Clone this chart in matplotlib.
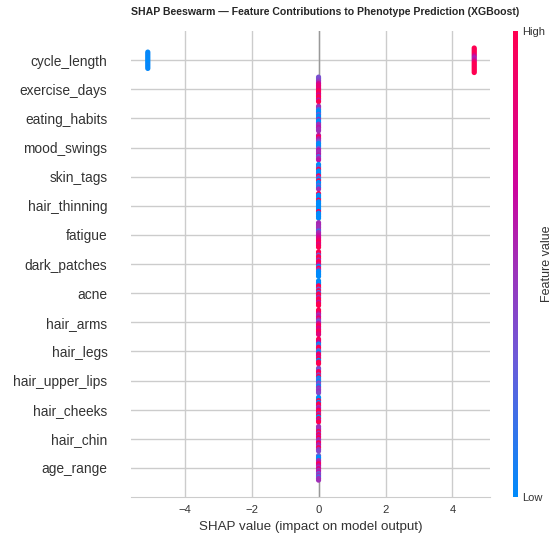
import numpy as np
import matplotlib
matplotlib.use('Agg')
import matplotlib.pyplot as plt
from matplotlib.colors import LinearSegmentedColormap
from matplotlib.cm import ScalarMappable

plt.rcParams['font.family'] = ['Liberation Sans', 'DejaVu Sans']

# features, top to bottom
features = ['cycle_length', 'exercise_days', 'eating_habits', 'mood_swings', 'skin_tags',
            'hair_thinning', 'fatigue', 'dark_patches', 'acne', 'hair_arms', 'hair_legs',
            'hair_upper_lips', 'hair_cheeks', 'hair_chin', 'age_range']

# shap values and normalised feature values per feature (points listed top to bottom of the swarm)
cycle_shap = [-5.1] * 11 + [4.65] * 16
cycle_feat = [0.02, 0.0, 0.05, 0.0, 0.0, 0.03, 0.0, 0.0, 0.05, 0.0, 0.02,
              1.0, 1.0, 0.95, 1.0, 0.9, 0.7, 0.55, 0.6, 0.8, 0.95, 1.0, 1.0, 0.95, 1.0, 1.0, 1.0]

exercise_days = [0.35, 0.35, 0.4, 0.5, 0.7, 0.8, 0.85, 0.8, 0.9, 1, 0.9, 0.7, 1, 1, 0.6, 1]
eating_habits = [0.5, 0.5, 0.2, 0, 0, 0.3, 0, 0, 0.5, 0, 0, 0.5, 0.5, 0.6, 0.5, 0.5]
mood_swings = [0.6, 1, 0.6, 0.5, 0.3, 0, 0, 0, 0.3, 0.6, 0.5, 0.5, 0.6, 0.2, 0.5, 0.6]
skin_tags = [0, 0, 0.2, 1, 0, 0, 0, 1, 0.4, 0, 1, 0, 0, 0.3, 0, 0.5]
hair_thinning = [1, 0, 0, 0, 1, 0, 0, 0, 0, 0, 0, 1, 0, 0, 0, 0]
fatigue = [0.5, 0.55, 0.5, 0.5, 0.5, 0.2, 0.5, 0.55, 0.6, 0.7, 0.8, 0.9, 1, 0.8, 0.9, 1]
dark_patches = [1, 1, 0.3, 1, 1, 0.5, 1, 1, 0.6, 0, 1, 0.5, 0, 0, 0, 0]
acne = [0, 0, 0, 1, 1, 0.3, 1, 0.2, 1, 1, 0.5, 1, 1, 0.6, 1, 1]
hair_arms = [1, 1, 0.8, 0.5, 0.6, 0.9, 0.5, 0.3, 0.6, 0.9, 1, 0.7, 0.8, 1, 0.9, 0.8]
hair_legs = [1, 0.9, 0.7, 0, 0.2, 1, 1, 0.3, 0, 0.8, 1, 0.6, 1, 0, 1, 1]
hair_upper_lips = [0.4, 0.3, 0.9, 1, 0.4, 1, 0, 0.2, 0, 0.4, 0.3, 0, 0.5, 0.4, 0.5, 0.4]
hair_cheeks = [0, 0, 1, 0, 1, 1, 0.5, 0.6, 1, 1, 0.5, 1, 0, 1, 0.6, 1]
hair_chin = [0.5, 0.5, 0.5, 1, 0.5, 1, 0.6, 1, 0.5, 0.5, 1, 0.6, 0.5, 1, 0.5, 0.4]
age_range = [0.3, 0, 0, 0.5, 0.6, 1, 0.7, 0.5, 0.8, 0.5, 0.6, 0.3, 0.5, 0.2, 0.5, 0.5]

other_feats = [exercise_days, eating_habits, mood_swings, skin_tags, hair_thinning, fatigue,
               dark_patches, acne, hair_arms, hair_legs, hair_upper_lips, hair_cheeks,
               hair_chin, age_range]
other_shap = 0.0

cmap = LinearSegmentedColormap.from_list('shap_red_blue', [
    (0.0, '#008bfb'), (0.3, '#6e5ad8'), (0.5, '#a030b8'),
    (0.66, '#cc059e'), (1.0, '#ff0051')])

fig = plt.figure(figsize=(5.53, 5.37), dpi=100)
ax = fig.add_axes([0.237, 0.0745, 0.649, 0.8675])
cax = fig.add_axes([0.927, 0.0745, 0.0095, 0.8675])

n = len(features)
rows_shap = [cycle_shap] + [[other_shap] * len(f) for f in other_feats]
rows_feat = [cycle_feat] + other_feats


def swarm(shaps, row):
    # stack points that share a value, first listed point on top
    shaps = np.asarray(shaps, dtype=float)
    ys = np.zeros(len(shaps))
    groups = {}
    for i, s in enumerate(shaps):
        groups.setdefault(s, []).append(i)
    biggest = max(len(g) for g in groups.values())
    for g in groups.values():
        k = len(g)
        half = 0.42 * (k - 1) / max(biggest - 1, 1)
        ys[g] = np.linspace(half, -half, k) if k > 1 else 0
    return row + ys


for i in range(n):
    row = n - 1 - i
    ys = swarm(rows_shap[i], row)
    ax.scatter(rows_shap[i], ys, c=rows_feat[i], cmap=cmap, vmin=0, vmax=1,
               s=14, linewidth=0, zorder=3)

ax.axvline(0, color='#999999', lw=1, zorder=1)
ax.set_xlim(-5.6, 5.12)
ax.set_ylim(-1, n)
ax.set_yticks(range(n))
ax.set_yticklabels(features[::-1], fontsize=9.9, color='#333333')
ax.set_xticks([-4, -2, 0, 2, 4])
ax.set_xticklabels(['\u22124', '\u22122', '0', '2', '4'], fontsize=8.1, color='#333333')
ax.tick_params(axis='x', length=0, pad=6)
ax.tick_params(axis='y', length=0, pad=17)
ax.grid(True, color='#cccccc', lw=1)
ax.set_axisbelow(True)
for s in ['top', 'right', 'left']:
    ax.spines[s].set_visible(False)
ax.spines['bottom'].set_color('#cccccc')
ax.set_xlabel('SHAP value (impact on model output)', fontsize=9.6, color='#333333', labelpad=4)

sm = ScalarMappable(cmap=cmap)
sm.set_array([0, 1])
cb = fig.colorbar(sm, cax=cax, ticks=[0, 1])
cb.set_ticklabels(['Low', 'High'])
cb.ax.tick_params(labelsize=8, length=0, pad=3, labelcolor='#333333')
cb.outline.set_visible(False)
cb.set_label('Feature value', fontsize=9, color='#333333', labelpad=-3)

fig.text(0.588, 0.978, 'SHAP Beeswarm \u2014 Feature Contributions to Phenotype Prediction (XGBoost)',
         ha='center', va='center', fontsize=7.6, fontweight='bold', color='#262626')

fig.savefig('out.png', dpi=100)
